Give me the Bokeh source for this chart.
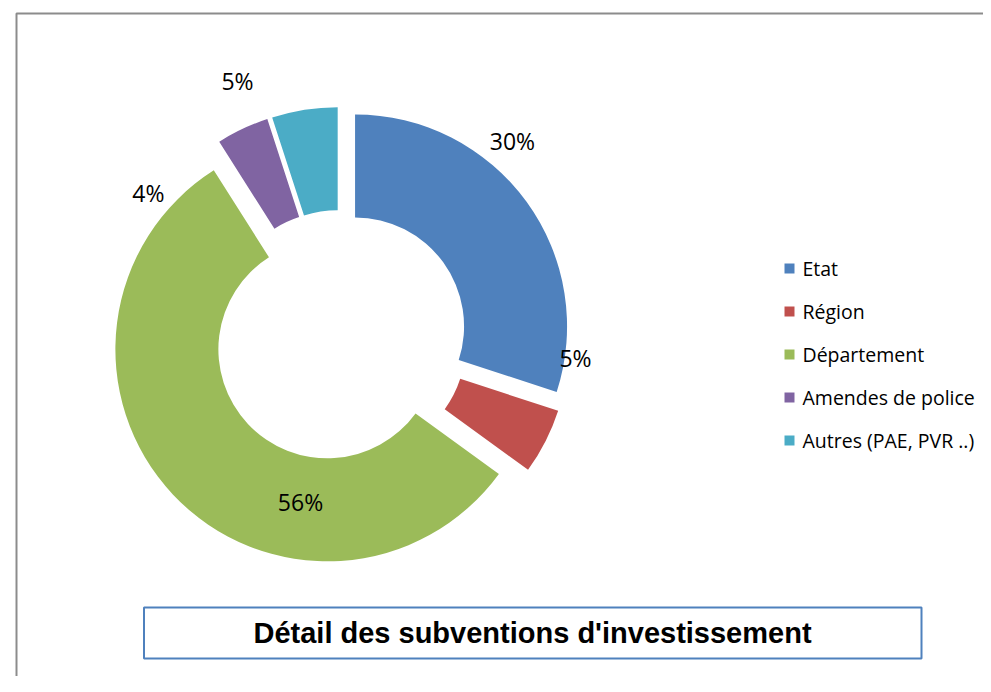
import math
from bokeh.plotting import figure
from bokeh.models import Range1d, ColumnDataSource
from bokeh.core.properties import value
from bokeh.embed import file_html
from bokeh.resources import INLINE

# ---------------- data ----------------
categories = ["Etat", "Région", "Département", "Amendes de police", "Autres (PAE, PVR ..)"]
shares = [30, 5, 56, 4, 5]
colors = ["#4F81BD", "#C0504D", "#9BBB59", "#8064A2", "#4BACC6"]
title_text = "Détail des subventions d'investissement"

# ---------------- layout (pixels) ----------------
W, H = 983, 676
CX, CY = 340, 339.5          # donut centre
R_OUT, R_IN = 212, 109
EXPLODE = 18
# label placement (polar, relative to centre)
label_angle_deg = [48.8, -5.2, -103.6, 143.2, 111.9]
label_radius = [261, 236, 170, 240, 276]

p = figure(width=W, height=H, output_backend="svg", toolbar_location=None,
           x_range=Range1d(0, W), y_range=Range1d(0, H), min_border=0)
p.axis.visible = False
p.grid.visible = False
p.outline_line_color = None
p.background_fill_color = "white"
p.border_fill_color = "white"

# outer frame (cropped chart border)
p.line([16, 16, W + 20], [-20, 663, 663], line_color="#8C8C8C", line_width=2)

# wedges
total = float(sum(shares))
starts, ends, xs, ys = [], [], [], []
a = 90.0
for s in shares:
    sweep = 360.0 * s / total
    a_end = a - sweep
    mid = math.radians((a + a_end) / 2)
    xs.append(CX + EXPLODE * math.cos(mid))
    ys.append(CY + EXPLODE * math.sin(mid))
    starts.append(math.radians(a_end))
    ends.append(math.radians(a))
    a = a_end

src = ColumnDataSource(dict(x=xs, y=ys, start=starts, end=ends, color=colors))
p.annular_wedge(x="x", y="y", inner_radius=R_IN, outer_radius=R_OUT,
                start_angle="start", end_angle="end", fill_color="color",
                line_color=None, source=src)

# percentage labels
lx = [CX + r * math.cos(math.radians(t)) for r, t in zip(label_radius, label_angle_deg)]
ly = [CY + r * math.sin(math.radians(t)) for r, t in zip(label_radius, label_angle_deg)]
ltxt = [f"{s}%" for s in shares]
p.text(x=lx, y=ly, text=ltxt, text_font=value("Open Sans"), text_font_size="23px",
       text_align="center", text_baseline="middle", text_color="#000000")

# legend (manual)
leg_x, leg_y0, leg_dy = 789, 408, 43
leg_ys = [leg_y0 - i * leg_dy for i in range(len(categories))]
p.scatter(x=[leg_x] * len(categories), y=leg_ys, marker="square", size=10,
          fill_color=colors, line_color=None)
p.text(x=[leg_x + 13] * len(categories), y=leg_ys, text=categories,
       text_font=value("Open Sans"), text_font_size="19.5px",
       text_align="left", text_baseline="middle", text_color="#000000")

# title box
p.quad(left=[143.5], right=[921], top=[69], bottom=[18], fill_color="white",
       line_color="#4F81BD", line_width=2)
p.text(x=[532], y=[44], text=[title_text], text_font=value("Liberation Sans"),
       text_font_style="bold", text_font_size="29px", text_align="center",
       text_baseline="middle", text_color="#000000")

open("out.html", "w").write(file_html(p, INLINE))
